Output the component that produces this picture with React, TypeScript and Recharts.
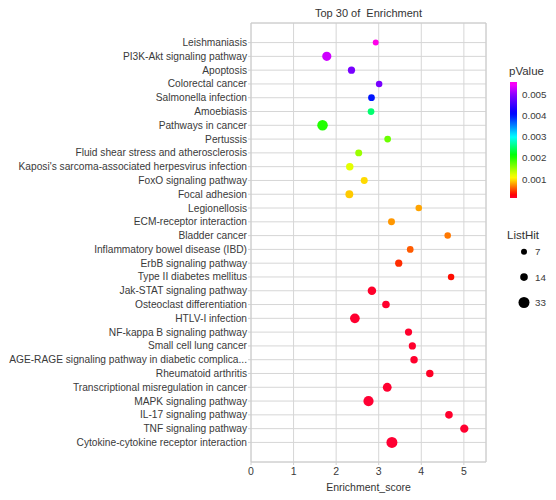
import React from "react";
import {
  ScatterChart,
  Scatter,
  XAxis,
  YAxis,
  ZAxis,
  CartesianGrid,
  Cell,
  ReferenceArea,
} from "recharts";

const categories = [
  "Leishmaniasis",
  "PI3K-Akt signaling pathway",
  "Apoptosis",
  "Colorectal cancer",
  "Salmonella infection",
  "Amoebiasis",
  "Pathways in cancer",
  "Pertussis",
  "Fluid shear stress and atherosclerosis",
  "Kaposi's sarcoma-associated herpesvirus infection",
  "FoxO signaling pathway",
  "Focal adhesion",
  "Legionellosis",
  "ECM-receptor interaction",
  "Bladder cancer",
  "Inflammatory bowel disease (IBD)",
  "ErbB signaling pathway",
  "Type II diabetes mellitus",
  "Jak-STAT signaling pathway",
  "Osteoclast differentiation",
  "HTLV-I infection",
  "NF-kappa B signaling pathway",
  "Small cell lung cancer",
  "AGE-RAGE signaling pathway in diabetic complica...",
  "Rheumatoid arthritis",
  "Transcriptional misregulation in cancer",
  "MAPK signaling pathway",
  "IL-17 signaling pathway",
  "TNF signaling pathway",
  "Cytokine-cytokine receptor interaction",
];

const enrichmentScore = [
  2.93, 1.78, 2.36, 3.01, 2.83, 2.82, 1.68, 3.21, 2.53, 2.32, 2.66, 2.31, 3.94,
  3.3, 4.62, 3.74, 3.47, 4.7, 2.84, 3.17, 2.44, 3.7, 3.79, 3.83, 4.2, 3.2, 2.76,
  4.65, 5.01, 3.31,
];

const listHit = [
  7, 22, 12, 9, 10, 10, 30, 10, 11, 13, 11, 15, 9, 11, 9, 10, 12, 9, 18, 14, 25,
  12, 12, 13, 13, 20, 28, 14, 17, 33,
];

const pValue = [
  0.0056, 0.0053, 0.0049, 0.0049, 0.004, 0.0025, 0.002, 0.0017, 0.0015, 0.0012,
  0.00095, 0.0009, 0.00078, 0.00074, 0.00064, 0.00055, 0.0004, 0.0003, 0.00013,
  0.00012, 0.00011, 0.00012, 0.00012, 0.00012, 0.00014, 0.00011, 0.0001,
  0.00012, 0.00011, 0.0001,
];

const xTicks = [0, 1, 2, 3, 4, 5];
const pValueTicks = [0.001, 0.002, 0.003, 0.004, 0.005];
const listHitLegend = [7, 14, 33];

const FONT = "'Liberation Sans', Arial, Helvetica, sans-serif";
const TEXT = "#3a3a3a";

// rainbow colour scale for pValue
const hueStops: [number, number][] = [
  [0.0001, -12],
  [0.001, 55],
  [0.002, 112],
  [0.003, 180],
  [0.004, 235],
  [0.005, 272],
  [0.0056, 305],
];
function pColor(p: number): string {
  let h = hueStops[0][1];
  if (p >= hueStops[hueStops.length - 1][0]) h = hueStops[hueStops.length - 1][1];
  else {
    for (let i = 0; i < hueStops.length - 1; i++) {
      const [p0, h0] = hueStops[i];
      const [p1, h1] = hueStops[i + 1];
      if (p >= p0 && p <= p1) {
        h = h0 + ((p - p0) / (p1 - p0)) * (h1 - h0);
        break;
      }
    }
  }
  h = ((h % 360) + 360) % 360;
  return `hsl(${h.toFixed(1)}, 100%, 50%)`;
}

const Z_DOMAIN: [number, number] = [7, 33];
const Z_RANGE: [number, number] = [28, 95];
function hitRadius(v: number) {
  const a =
    Z_RANGE[0] +
    ((v - Z_DOMAIN[0]) / (Z_DOMAIN[1] - Z_DOMAIN[0])) * (Z_RANGE[1] - Z_RANGE[0]);
  return Math.sqrt(a / Math.PI);
}

const data = categories.map((name, i) => ({
  name,
  x: enrichmentScore[i],
  y: categories.length - i,
  hits: listHit[i],
  p: pValue[i],
}));

const yTicks = categories.map((_, i) => categories.length - i);
const X_DOMAIN: [number, number] = [0, 5.52];
const Y_DOMAIN: [number, number] = [-0.42, categories.length + 1.42];

// colour bar geometry
const CB_X = 510;
const CB_W = 7;
const CB_TOP = 82;
const CB_BOTTOM = 198;
const P_MIN = 0.0001;
const P_MAX = 0.0056;
const cbY = (p: number) =>
  CB_BOTTOM - ((p - P_MIN) / (P_MAX - P_MIN)) * (CB_BOTTOM - CB_TOP);

const N_GRAD = 40;
const gradStops = Array.from({ length: N_GRAD + 1 }, (_, k) => ({
  offset: k / N_GRAD,
  color: pColor(P_MIN + ((P_MAX - P_MIN) * k) / N_GRAD),
}));

function YTick(props: any) {
  const { x, y, payload } = props;
  const label = categories[categories.length - payload.value] ?? "";
  return (
    <text
      x={x}
      y={y}
      textAnchor="end"
      dominantBaseline="central"
      fontSize={10.2}
      fill={TEXT}
      fontFamily={FONT}
    >
      {label}
    </text>
  );
}

export default function App() {
  return (
    <div
      style={{
        position: "absolute",
        left: 0,
        top: 0,
        width: 556,
        height: 500,
        background: "#fff",
        fontFamily: FONT,
      }}
    >
      <ScatterChart
        width={556}
        height={500}
        margin={{ top: 23, right: 70, bottom: 0, left: 0 }}
      >
        <CartesianGrid stroke="#d6d6d6" strokeWidth={1} />
        <XAxis
          type="number"
          dataKey="x"
          domain={X_DOMAIN}
          ticks={xTicks}
          allowDataOverflow
          height={38}
          tickSize={3}
          tickMargin={3}
          axisLine={false}
          tickLine={{ stroke: "#cfcfcf" }}
          tick={{ fill: TEXT, fontSize: 10.5, fontFamily: FONT }}
        />
        <YAxis
          type="number"
          dataKey="y"
          domain={Y_DOMAIN}
          ticks={yTicks}
          allowDataOverflow
          interval={0}
          width={251}
          tickSize={3}
          tickMargin={1}
          axisLine={false}
          tickLine={{ stroke: "#cfcfcf" }}
          tick={<YTick />}
        />
        <ZAxis type="number" dataKey="hits" domain={Z_DOMAIN} range={Z_RANGE} />
        <ReferenceArea
          x1={X_DOMAIN[0]}
          x2={X_DOMAIN[1]}
          y1={Y_DOMAIN[0]}
          y2={Y_DOMAIN[1]}
          fill="none"
          fillOpacity={0}
          stroke="#cccccc"
          strokeWidth={1}
        />
        <Scatter data={data} isAnimationActive={false} shape="circle">
          {data.map((d, i) => (
            <Cell key={i} fill={pColor(d.p)} stroke="none" />
          ))}
        </Scatter>
      </ScatterChart>
      <svg
        width={556}
        height={500}
        style={{ position: "absolute", left: 0, top: 0, pointerEvents: "none" }}
      >
        <defs>
          <linearGradient id="pgrad" x1="0" y1="1" x2="0" y2="0">
            {gradStops.map((s, i) => (
              <stop key={i} offset={s.offset} stopColor={s.color} />
            ))}
          </linearGradient>
        </defs>
        <text
          x={368.5}
          y={12.7}
          textAnchor="middle"
          dominantBaseline="central"
          fontSize={11}
          fill="#333"
          fontFamily={FONT}
          style={{ whiteSpace: "pre" }}
        >
          {"Top 30 of  Enrichment"}
        </text>
        <text
          x={368.5}
          y={486.7}
          textAnchor="middle"
          dominantBaseline="central"
          fontSize={10.5}
          fill="#333"
          fontFamily={FONT}
        >
          Enrichment_score
        </text>
        <text x={509} y={71} dominantBaseline="central" fontSize={11.5} fill="#333" fontFamily={FONT}>
          pValue
        </text>
        <rect x={CB_X} y={CB_TOP} width={CB_W} height={CB_BOTTOM - CB_TOP} fill="url(#pgrad)" />
        {pValueTicks.map((t) => (
          <text
            key={t}
            x={522}
            y={cbY(t)}
            dominantBaseline="central"
            fontSize={9.8}
            fill={TEXT}
            fontFamily={FONT}
          >
            {t.toFixed(3)}
          </text>
        ))}
        <text x={507} y={235} dominantBaseline="central" fontSize={11.5} fill="#333" fontFamily={FONT}>
          ListHit
        </text>
        {listHitLegend.map((v, i) => (
          <g key={v}>
            <circle cx={524} cy={251.7 + i * 25.4} r={hitRadius(v)} fill="#000" />
            <text
              x={535}
              y={251.7 + i * 25.4}
              dominantBaseline="central"
              fontSize={9.8}
              fill={TEXT}
              fontFamily={FONT}
            >
              {v}
            </text>
          </g>
        ))}
      </svg>
    </div>
  );
}
